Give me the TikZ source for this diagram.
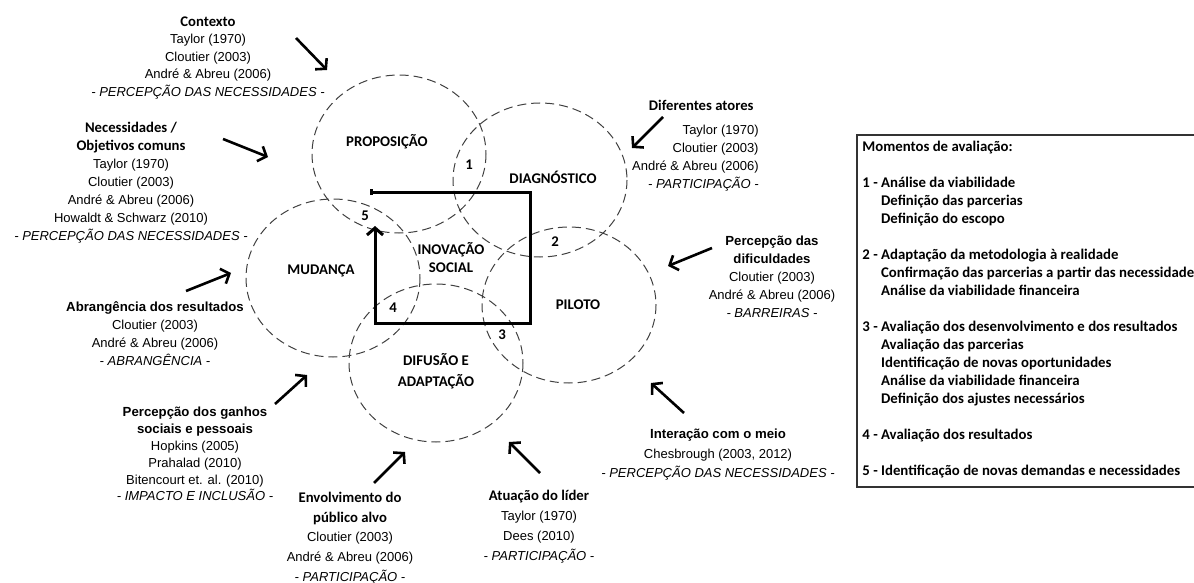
\documentclass[tikz,border=0pt]{standalone}
\usepackage{fontspec}
\setmainfont{Liberation Sans}
\newfontfamily\calfam{Carlito}
\usetikzlibrary{arrows.meta}

% reference lines (Arial-like), with a chosen line spacing
\newcommand\rfont[1]{\fontsize{6.5}{#1}\selectfont}
% bold headings in Calibri-like and Arial-like faces
\newcommand\tfont{\calfam\bfseries\fontsize{7.35}{9}\selectfont}
\newcommand\afont{\bfseries\fontsize{6.6}{9}\selectfont}
% phase labels and evaluation list
\newcommand\bfont{\calfam\bfseries\fontsize{7.4}{9}\selectfont}

\begin{document}
\begin{tikzpicture}[x=0.5pt,y=-0.5pt,
  phase/.style={draw=black!75, line width=0.5pt, dash pattern=on 4.5pt off 2.5pt},
  phaselabel/.style={font=\bfont, inner sep=0pt, align=center},
  refblock/.style={inner sep=0pt, align=center, anchor=north},
  push/.style={line width=1.3pt, -{Straight Barb[length=3.5pt, width=8pt]}},
  loopline/.style={line width=1.5pt, {Bar[width=3pt]}-{Straight Barb[length=3.5pt, width=8pt]}},
]
\useasboundingbox (0,0) rectangle (1194,583);

% the five phases
\draw[phase] (399,154) ellipse [x radius=87, y radius=79];
\draw[phase] (540,180) ellipse [x radius=87, y radius=77];
\draw[phase] (333,278) ellipse [x radius=87, y radius=79];
\draw[phase] (569,305) ellipse [x radius=87, y radius=78];
\draw[phase] (436,363) ellipse [x radius=87, y radius=79];

\node[phaselabel] (prop) at (387,142) {PROPOSIÇÃO};
\node[phaselabel] (diag) at (553,177) {DIAGNÓSTICO};
\node[phaselabel] (mud)  at (321,271) {MUDANÇA};
\node[phaselabel] (inov) at (451,258) {INOVAÇÃO\\SOCIAL};
\node[phaselabel] (pil)  at (578,305) {PILOTO};
\node[phaselabel] (difu) at (436,371) {DIFUSÃO E\\[1.5pt]ADAPTAÇÃO};

% evaluation moments
\node[phaselabel] (m1) at (469,165) {1};
\node[phaselabel] (m2) at (555,242) {2};
\node[phaselabel] (m3) at (502,335) {3};
\node[phaselabel] (m4) at (393,308) {4};
\node[phaselabel] (m5) at (365,216) {5};

% central cycle
\coordinate (l0) at (370,192);
\coordinate (l1) at (530,192);
\coordinate (l2) at (530,323);
\coordinate (l3) at (375,323);
\coordinate (l4) at (375,226);
\draw[loopline] (l0) -- (l1) -- (l2) -- (l3) -- (l4);

% factor blocks
\node[refblock, font={\rfont{8.75pt}}] (ctx) at (208,16)
  {{\tfont Contexto}\\ Taylor (1970)\\ Cloutier (2003)\\ André \& Abreu (2006)\\
   \textit{- PERCEPÇÃO DAS NECESSIDADES -}};
\node[refblock, font={\rfont{9pt}}] (nec) at (131,122)
  {{\tfont Necessidades /}\\ {\tfont Objetivos comuns}\\ Taylor (1970)\\ Cloutier (2003)\\
   André \& Abreu (2006)\\ Howaldt \& Schwarz (2010)\\
   \textit{- PERCEPÇÃO DAS NECESSIDADES -}};
\node[refblock, font={\rfont{9.1pt}}] (abr) at (155,301)
  {{\afont Abrangência dos resultados}\\ Cloutier (2003)\\ André \& Abreu (2006)\\
   \textit{- ABRANGÊNCIA -}};
\node[refblock, font={\rfont{8.4pt}}] (gan) at (195,407)
  {{\afont Percepção dos ganhos}\\ {\afont sociais e pessoais}\\ Hopkins (2005)\\
   Prahalad (2010)\\ Bitencourt et. al. (2010)\\ \textit{- IMPACTO E INCLUSÃO -}};
\node[refblock, font={\rfont{9.8pt}}] (env) at (350,492)
  {{\tfont Envolvimento do}\\ {\tfont público alvo}\\ Cloutier (2003)\\
   André \& Abreu (2006)\\ \textit{- PARTICIPAÇÃO -}};
\node[refblock, font={\rfont{10pt}}] (atu) at (539,490)
  {{\tfont Atuação do líder}\\ Taylor (1970)\\ Dees (2010)\\ \textit{- PARTICIPAÇÃO -}};
\node[refblock, font={\rfont{9.7pt}}] (inter) at (718,429)
  {{\afont Interação com o meio}\\ Chesbrough (2003, 2012)\\
   \textit{- PERCEPÇÃO DAS NECESSIDADES -}};
\node[inner sep=0pt, align=right, anchor=north east, font={\rfont{9pt}}] (atores) at (759,100)
  {{\tfont Diferentes atores}\hspace*{2.5pt}\\[3pt] Taylor (1970)\\ Cloutier (2003)\\
   André \& Abreu (2006)\\ \textit{- PARTICIPAÇÃO -}};
\node[refblock, font={\rfont{8.9pt}}] (dific) at (772,236)
  {{\afont Percepção das}\\ {\afont dificuldades}\\ Cloutier (2003)\\
   André \& Abreu (2006)\\ \textit{- BARREIRAS -}};

% arrows from each factor towards the phases
\coordinate (ctxA) at (296,38);  \coordinate (ctxB) at (327,70);
\coordinate (necA) at (223,139); \coordinate (necB) at (268,157);
\coordinate (abrA) at (186,291); \coordinate (abrB) at (231,273);
\coordinate (ganA) at (275,404); \coordinate (ganB) at (307,375);
\coordinate (envA) at (374,483); \coordinate (envB) at (405,452);
\coordinate (atuA) at (540,473); \coordinate (atuB) at (509,442);
\coordinate (intA) at (684,413); \coordinate (intB) at (651,383);
\coordinate (atoA) at (663,117); \coordinate (atoB) at (632,148);
\coordinate (difA) at (712,248); \coordinate (difB) at (668,266);
\draw[push] (ctxA) -- (ctxB);
\draw[push] (necA) -- (necB);
\draw[push] (abrA) -- (abrB);
\draw[push] (ganA) -- (ganB);
\draw[push] (envA) -- (envB);
\draw[push] (atuA) -- (atuB);
\draw[push] (intA) -- (intB);
\draw[push] (atoA) -- (atoB);
\draw[push] (difA) -- (difB);

% evaluation moments list
\draw[draw=black!80, line width=0.6pt] (857,135) rectangle (1215,487);
\node[anchor=north west, inner sep=0pt, align=left, font=\bfont] (moments) at (862,141)
  {Momentos de avaliação:\\[9pt]
   1 - Análise da viabilidade\\
   \hphantom{1 - }Definição das parcerias\\
   \hphantom{1 - }Definição do escopo\\[9pt]
   2 - Adaptação da metodologia à realidade\\
   \hphantom{2 - }Confirmação das parcerias a partir das necessidades\\
   \hphantom{2 - }Análise da viabilidade financeira\\[9pt]
   3 - Avaliação dos desenvolvimento e dos resultados\\
   \hphantom{3 - }Avaliação das parcerias\\
   \hphantom{3 - }Identificação de novas oportunidades\\
   \hphantom{3 - }Análise da viabilidade financeira\\
   \hphantom{3 - }Definição dos ajustes necessários\\[9pt]
   4 - Avaliação dos resultados\\[9pt]
   5 - Identificação de novas demandas e necessidades};
\end{tikzpicture}
\end{document}
